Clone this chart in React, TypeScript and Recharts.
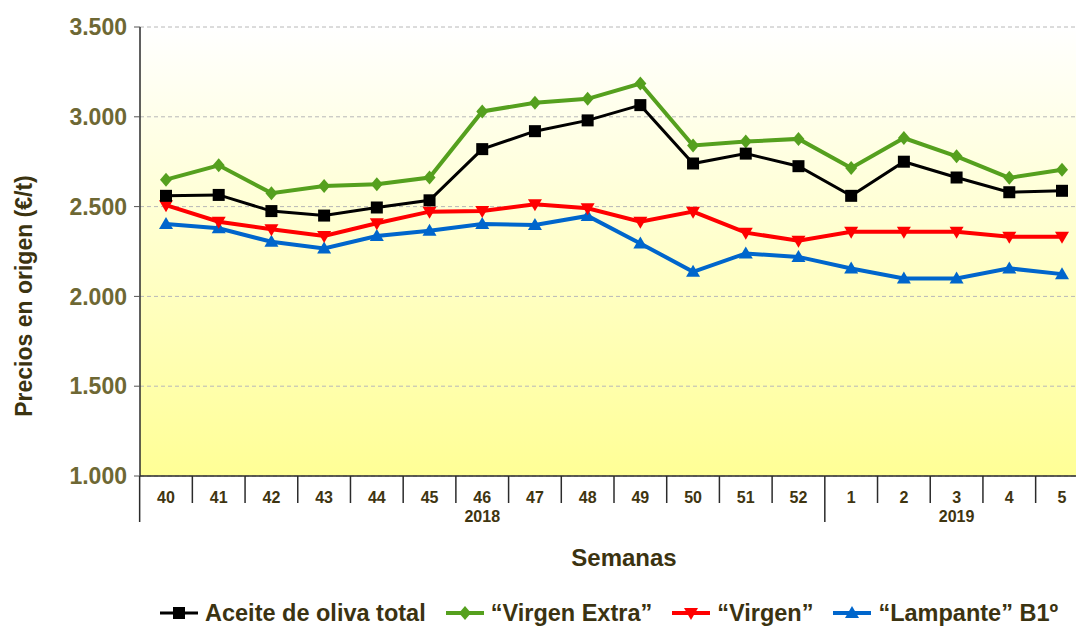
import React from "react";
import {
  LineChart,
  Line,
  XAxis,
  YAxis,
  CartesianGrid,
  Legend,
} from "recharts";

// semanas de campaña 2018/2019
const weeks = ["40", "41", "42", "43", "44", "45", "46", "47", "48", "49", "50", "51", "52", "1", "2", "3", "4", "5"];
const years = [
  "2018", "2018", "2018", "2018", "2018", "2018", "2018", "2018", "2018", "2018", "2018", "2018", "2018",
  "2019", "2019", "2019", "2019", "2019",
];

// €/t
const aceiteTotal = [2560, 2565, 2475, 2450, 2495, 2535, 2820, 2920, 2980, 3065, 2740, 2795, 2725, 2560, 2750, 2662, 2580, 2588];
const virgenExtra = [2650, 2730, 2575, 2615, 2625, 2662, 3030, 3078, 3100, 3185, 2840, 2862, 2877, 2715, 2882, 2780, 2660, 2705];
const virgen = [2508, 2416, 2374, 2336, 2407, 2472, 2475, 2513, 2491, 2416, 2472, 2355, 2310, 2360, 2360, 2360, 2332, 2332];
const lampante = [2403, 2379, 2304, 2267, 2336, 2366, 2403, 2398, 2448, 2295, 2137, 2239, 2220, 2155, 2100, 2100, 2156, 2124];

const yTicks = [1000, 1500, 2000, 2500, 3000, 3500];

const data = weeks.map((w, i) => ({
  week: w,
  total: aceiteTotal[i],
  extra: virgenExtra[i],
  virgen: virgen[i],
  lampante: lampante[i],
}));

const W = 1076;
const H = 626;
const PLOT_LEFT = 140;
const PAD_L = 26;
const PAD_R = 14;
const STEP = (W - PAD_R - PLOT_LEFT - PAD_L) / (weeks.length - 1);

const FONT = "'Liberation Sans', Arial, sans-serif";
const C_BLACK = "#000000";
const C_GREEN = "#55a01e";
const C_RED = "#ff0000";
const C_BLUE = "#0066cc";

function fmtThousands(v: number) {
  return String(v).replace(/\B(?=(\d{3})+(?!\d))/g, ".");
}

type Shape = "square" | "diamond" | "down" | "up";

function Marker({ cx, cy, shape, color }: { cx: number; cy: number; shape: Shape; color: string }) {
  if (shape === "square") return <rect x={cx - 6} y={cy - 6} width={12} height={12} fill={color} />;
  if (shape === "diamond")
    return <polygon points={`${cx},${cy - 7} ${cx + 6},${cy} ${cx},${cy + 7} ${cx - 6},${cy}`} fill={color} />;
  if (shape === "down")
    return <polygon points={`${cx - 7},${cy - 5} ${cx + 7},${cy - 5} ${cx},${cy + 7}`} fill={color} />;
  return <polygon points={`${cx - 7},${cy + 5} ${cx + 7},${cy + 5} ${cx},${cy - 7}`} fill={color} />;
}

function dotFor(shape: Shape, color: string) {
  return (props: any) => {
    const { cx, cy, index } = props;
    if (cx == null || cy == null) return <g key={`n-${index}`} />;
    return <Marker key={`${shape}-${index}`} cx={cx} cy={cy} shape={shape} color={color} />;
  };
}

function WeekTick(props: any) {
  const { x, y, payload } = props;
  const i: number = payload.index ?? props.index ?? 0;
  const groupStart = i === 0 || years[i] !== years[i - 1];
  let s = i;
  while (s > 0 && years[s - 1] === years[i]) s--;
  let e = i;
  while (e < years.length - 1 && years[e + 1] === years[i]) e++;
  const isMid = i === Math.floor((s + e) / 2);
  const sepX = x - STEP / 2;
  return (
    <g>
      <line x1={sepX} x2={sepX} y1={y} y2={y + (groupStart ? 46 : 27)} stroke="#2b2b2b" strokeWidth={1.5} />
      <text x={x} y={y + 27} textAnchor="middle" fontSize={16} fontWeight="bold" fill="#3f3510" fontFamily={FONT}>
        {payload.value}
      </text>
      {isMid && (
        <text x={x} y={y + 46} textAnchor="middle" fontSize={16} fontWeight="bold" fill="#3f3510" fontFamily={FONT}>
          {years[i]}
        </text>
      )}
    </g>
  );
}

const legendItems: { label: string; shape: Shape; color: string; width: number }[] = [
  { label: "Aceite de oliva total", shape: "square", color: C_BLACK, width: 3 },
  { label: "“Virgen Extra”", shape: "diamond", color: C_GREEN, width: 4 },
  { label: "“Virgen”", shape: "down", color: C_RED, width: 4 },
  { label: "“Lampante” B1º", shape: "up", color: C_BLUE, width: 4 },
];

function LegendContent() {
  return (
    <div style={{ display: "flex", alignItems: "center", paddingLeft: 160, fontFamily: FONT }}>
      {legendItems.map((it) => (
        <div key={it.label} style={{ display: "flex", alignItems: "center", marginRight: 20 }}>
          <svg width={38} height={26} style={{ marginRight: 7 }}>
            <line x1={0} x2={38} y1={13} y2={13} stroke={it.color} strokeWidth={it.width} />
            <Marker cx={19} cy={13} shape={it.shape} color={it.color} />
          </svg>
          <span style={{ fontSize: 23.5, fontWeight: "bold", lineHeight: "26px", color: "#3b3311", whiteSpace: "nowrap" }}>
            {it.label}
          </span>
        </div>
      ))}
    </div>
  );
}

export default function App() {
  return (
    <div style={{ position: "absolute", left: 0, top: 0, width: W, height: H, background: "#fff", fontFamily: FONT }}>
      <LineChart width={W} height={H} data={data} margin={{ top: 27, right: 0, left: 0, bottom: 0 }}>
        <defs>
          <linearGradient id="plotBg" x1="0" y1="0" x2="0" y2="1">
            <stop offset="0%" stopColor="#ffffff" />
            <stop offset="100%" stopColor="#ffff96" />
          </linearGradient>
        </defs>
        <CartesianGrid
          vertical={false}
          stroke="#b8b8b8"
          strokeDasharray="4 3"
          fill="url(#plotBg)"
          fillOpacity={1}
        />
        <XAxis
          dataKey="week"
          type="category"
          interval={0}
          height={150}
          padding={{ left: PAD_L, right: PAD_R }}
          axisLine={{ stroke: "#2b2b2b", strokeWidth: 1.5 }}
          tickLine={false}
          tickSize={0}
          tickMargin={0}
          tick={(p: any) => <WeekTick {...p} />}
          label={{
            content: () => (
              <text x={624} y={566} textAnchor="middle" fontSize={24} fontWeight="bold" fill="#3b3310" fontFamily={FONT}>
                Semanas
              </text>
            ),
          }}
        />
        <YAxis
          width={PLOT_LEFT}
          domain={[1000, 3500]}
          ticks={yTicks}
          allowDataOverflow
          tickFormatter={fmtThousands}
          axisLine={{ stroke: "#2b2b2b", strokeWidth: 1.5 }}
          tickLine={{ stroke: "#555555" }}
          tickSize={6}
          tickMargin={7}
          tick={{ fill: "#6e6834", fontSize: 23, fontWeight: "bold", fontFamily: FONT }}
          label={{
            content: () => (
              <text
                transform="translate(24, 296) rotate(-90)"
                textAnchor="middle"
                dominantBaseline="central"
                fontSize={23}
                fontWeight="bold"
                fill="#3b3310"
                fontFamily={FONT}
              >
                Precios en origen (€/t)
              </text>
            ),
          }}
        />
        <Legend
          layout="horizontal"
          verticalAlign="middle"
          align="center"
          wrapperStyle={{ top: 600, left: 0, width: W }}
          content={() => <LegendContent />}
        />
        <Line type="linear" dataKey="lampante" stroke={C_BLUE} strokeWidth={4} dot={dotFor("up", C_BLUE)} activeDot={false} isAnimationActive={false} />
        <Line type="linear" dataKey="virgen" stroke={C_RED} strokeWidth={4} dot={dotFor("down", C_RED)} activeDot={false} isAnimationActive={false} />
        <Line type="linear" dataKey="extra" stroke={C_GREEN} strokeWidth={4} dot={dotFor("diamond", C_GREEN)} activeDot={false} isAnimationActive={false} />
        <Line type="linear" dataKey="total" stroke={C_BLACK} strokeWidth={3} dot={dotFor("square", C_BLACK)} activeDot={false} isAnimationActive={false} />
      </LineChart>
    </div>
  );
}
